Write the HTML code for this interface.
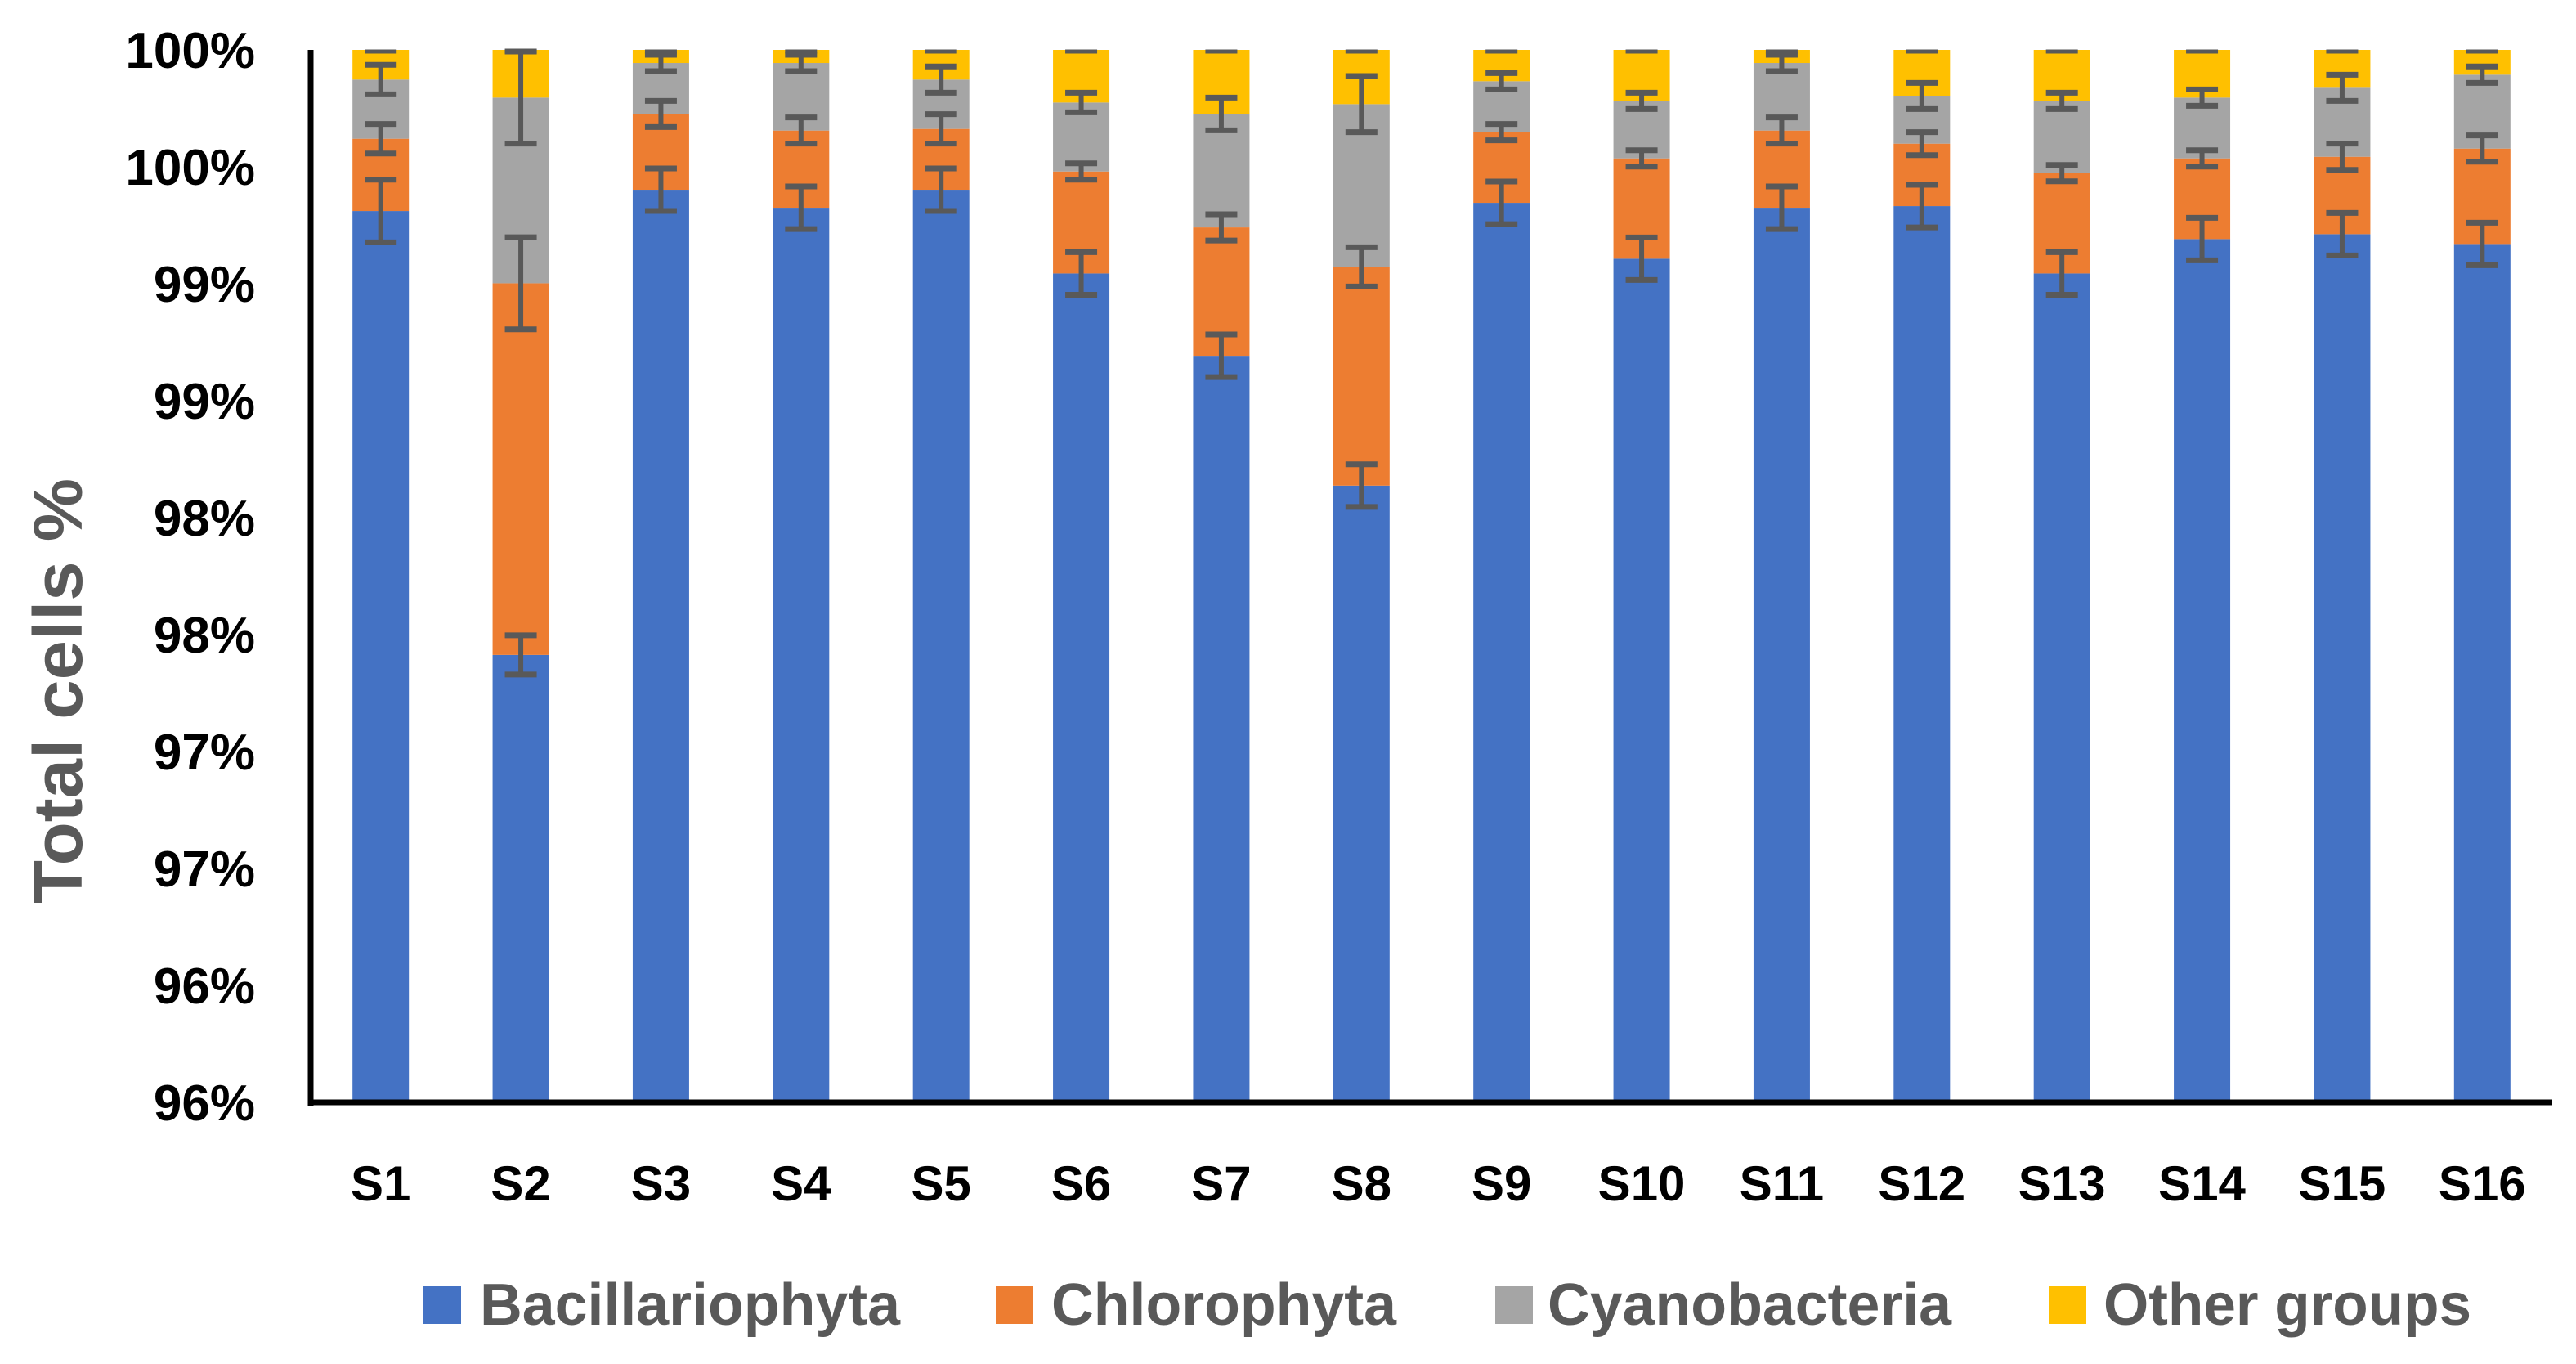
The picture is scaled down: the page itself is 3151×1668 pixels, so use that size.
<!DOCTYPE html>
<html><head><meta charset="utf-8"><style>
html,body{margin:0;padding:0;background:#fff;}
svg{display:block;font-family:"Liberation Sans",sans-serif;}
</style></head><body>
<svg id="chart" width="3151" height="1668" viewBox="0 0 3151 1668" xmlns="http://www.w3.org/2000/svg">
<rect x="0" y="0" width="3151" height="1668" fill="#fff"/>
<g id="plot"></g>
<text transform="translate(100,845) rotate(-90)" text-anchor="middle" font-size="84" font-weight="bold" fill="#595959" textLength="520" lengthAdjust="spacingAndGlyphs">Total cells %</text>
<g>
 <g><rect x="518" y="1573" width="46" height="46" fill="#4472C4"/><text x="587" y="1620" font-size="72" font-weight="bold" fill="#595959" textLength="514" lengthAdjust="spacingAndGlyphs">Bacillariophyta</text></g>
 <g><rect x="1218" y="1573" width="46" height="46" fill="#ED7D31"/><text x="1286" y="1620" font-size="72" font-weight="bold" fill="#595959" textLength="422" lengthAdjust="spacingAndGlyphs">Chlorophyta</text></g>
 <g><rect x="1829" y="1573" width="46" height="46" fill="#A5A5A5"/><text x="1893" y="1620" font-size="72" font-weight="bold" fill="#595959" textLength="494" lengthAdjust="spacingAndGlyphs">Cyanobacteria</text></g>
 <g><rect x="2506" y="1573" width="46" height="46" fill="#FFC000"/><text x="2573" y="1620" font-size="72" font-weight="bold" fill="#595959" textLength="450" lengthAdjust="spacingAndGlyphs">Other groups</text></g>
</g>
</svg>
<script>
const categories = ["S1","S2","S3","S4","S5","S6","S7","S8","S9","S10","S11","S12","S13","S14","S15","S16"];
const bacillariophyta = [99.311,97.413,99.402,99.325,99.402,99.044,98.692,98.137,99.346,99.107,99.325,99.332,99.044,99.191,99.212,99.170];
const chlorophyta = [0.309,1.589,0.324,0.330,0.260,0.436,0.549,0.935,0.302,0.429,0.330,0.267,0.429,0.345,0.331,0.408];
const cyanobacteria = [0.253,0.794,0.218,0.289,0.211,0.295,0.485,0.696,0.218,0.246,0.289,0.204,0.309,0.260,0.295,0.316];
const otherGroups = [0.127,0.204,0.056,0.056,0.127,0.225,0.274,0.232,0.134,0.218,0.056,0.197,0.218,0.204,0.162,0.106];
const errBacillariophyta = [0.134,0.084,0.091,0.091,0.091,0.091,0.091,0.091,0.091,0.091,0.091,0.091,0.091,0.091,0.091,0.091];
const errChlorophyta = [0.063,0.197,0.056,0.056,0.063,0.035,0.056,0.084,0.035,0.035,0.056,0.049,0.035,0.035,0.056,0.056];
const errCyanobacteria = [0.063,0.197,0.035,0.035,0.056,0.042,0.070,0.120,0.035,0.035,0.035,0.056,0.035,0.035,0.056,0.035];
const yTicks = [95.5,96,96.5,97,97.5,98,98.5,99,99.5,100];
const yTickLabels = ["96%","96%","97%","97%","98%","98%","99%","99%","100%","100%"];

const NS="http://www.w3.org/2000/svg";
const X0=380, X1=3122, Y0=61, Y1=1348, YMIN=95.5, YMAX=100;
const band=(X1-X0)/categories.length, barW=69;
function xC(i){return X0+band*(i+0.5);}
function yS(v){return Y1-(v-YMIN)/(YMAX-YMIN)*(Y1-Y0);}
const plot=document.getElementById('plot');
function mk(tag,attrs,parent){const e=document.createElementNS(NS,tag);for(const k in attrs)e.setAttribute(k,attrs[k]);(parent||plot).appendChild(e);return e;}

const series=[[bacillariophyta,"#4472C4","bacillariophyta",errBacillariophyta],[chlorophyta,"#ED7D31","chlorophyta",errChlorophyta],[cyanobacteria,"#A5A5A5","cyanobacteria",errCyanobacteria],[otherGroups,"#FFC000","other-groups",null]];
const errs=[];
categories.forEach((c,i)=>{
  let cum=0;
  series.forEach(s=>{
    const lo=cum, hi=cum+s[0][i]; cum=hi;
    const yTop=yS(Math.min(hi,YMAX)), yBot=yS(Math.max(lo,YMIN));
    if(yBot>yTop){
      const r=mk('rect',{x:xC(i)-barW/2,y:yTop,width:barW,height:yBot-yTop,fill:s[1]});
      
      
    }
    errs.push([i,hi,s[3]?s[3][i]:0,s[2]]);
  });
});
errs.forEach(e=>{
  const [i,v,er,name]=e;
  const g=mk('g',{stroke:"#595959",fill:"none"});
  
  
  const x=xC(i), cw=39;
  const yt=yS(Math.min(v+er,YMAX)), yb=yS(v-er);
  if(er>0){
    mk('line',{x1:x,x2:x,y1:yt,y2:yb,'stroke-width':6},g);
    if(v+er<=YMAX) mk('line',{x1:x-cw/2,x2:x+cw/2,y1:yt,y2:yt,'stroke-width':7},g);
    mk('line',{x1:x-cw/2,x2:x+cw/2,y1:yb,y2:yb,'stroke-width':7},g);
  } else {
    mk('line',{x1:x-cw/2,x2:x+cw/2,y1:yS(YMAX)+2,y2:yS(YMAX)+2,'stroke-width':5},g);
  }
});
// axes
const ya=mk('line',{x1:X0,x2:X0,y1:Y0,y2:Y1+4,stroke:"#000",'stroke-width':7});


const xa=mk('line',{x1:X0-3,x2:X1,y1:Y1,y2:Y1,stroke:"#000",'stroke-width':7});


yTicks.forEach((t,k)=>{
  const tx=mk('text',{x:312,y:yS(t)+22,'text-anchor':'end','font-size':62,'font-weight':'bold',fill:'#000'});
  
  
  tx.textContent=yTickLabels[k];
});
categories.forEach((c,i)=>{
  const tx=mk('text',{x:xC(i),y:1468,'text-anchor':'middle','font-size':60,'font-weight':'bold',fill:'#000'});
  
  
  tx.textContent=c;
});
</script>
</body></html>
